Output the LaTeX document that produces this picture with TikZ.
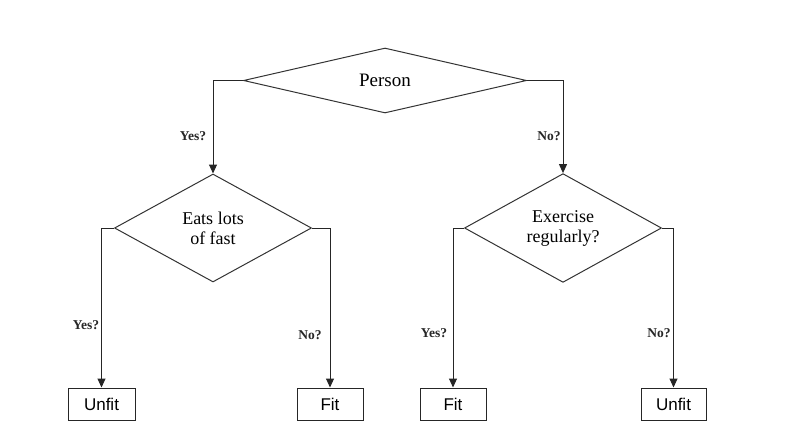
\documentclass[tikz,border=0pt]{standalone}
\usepackage{fontspec}
\setmainfont{Liberation Serif}
\newfontfamily\boxfont{Liberation Sans}
\usetikzlibrary{shapes.geometric,arrows.meta}
\begin{document}
\begin{tikzpicture}[x=1pt,y=-1pt,
  line width=1pt,
  decision/.style={diamond,draw=black!80,inner sep=0pt,align=center,
    font=\fontsize{18}{20}\selectfont},
  leaf/.style={rectangle,draw=black!85,inner sep=0pt,minimum height=32pt,
    font=\boxfont\fontsize{17}{20}\selectfont},
  lbl/.style={font=\bfseries\fontsize{13.5}{15}\selectfont,inner sep=0pt,text=black!85},
  conn/.style={draw=black!85,-{Triangle[width=8pt,length=9pt]}}]
\useasboundingbox (0,0) rectangle (786,444);
\node[decision,minimum width=283pt,minimum height=65pt,font=\fontsize{19}{21}\selectfont] (top) at (385,80.5) {\raisebox{-2pt}{Person}};
\node[decision,minimum width=197pt,minimum height=108pt] (eat) at (213,228) {Eats lots\\of fast};
\node[decision,minimum width=197pt,minimum height=108pt] (ex) at (563,228) {Exercise\\regularly?};
\node[leaf,minimum width=67pt] (u1) at (101.5,404) {Unfit};
\node[leaf,minimum width=66pt] (f1) at (330,404) {Fit};
\node[leaf,minimum width=66pt] (f2) at (453,404) {Fit};
\node[leaf,minimum width=65pt] (u2) at (673.5,404) {Unfit};
\draw[conn] (top.west) -| (eat.north);
\draw[conn] (top.east) -| (ex.north);
\draw[conn] (eat.west) -| (u1.north);
\draw[conn] (eat.east) -| (f1.north);
\draw[conn] (ex.west) -| (f2.north);
\draw[conn] (ex.east) -| (u2.north);
\node[lbl] (l1) at (193,136) {Yes?};
\node[lbl] (l2) at (549,136) {No?};
\node[lbl] (l3) at (86,325) {Yes?};
\node[lbl] (l4) at (310,335) {No?};
\node[lbl] (l5) at (434,333) {Yes?};
\node[lbl] (l6) at (659,333) {No?};
\end{tikzpicture}
\end{document}
